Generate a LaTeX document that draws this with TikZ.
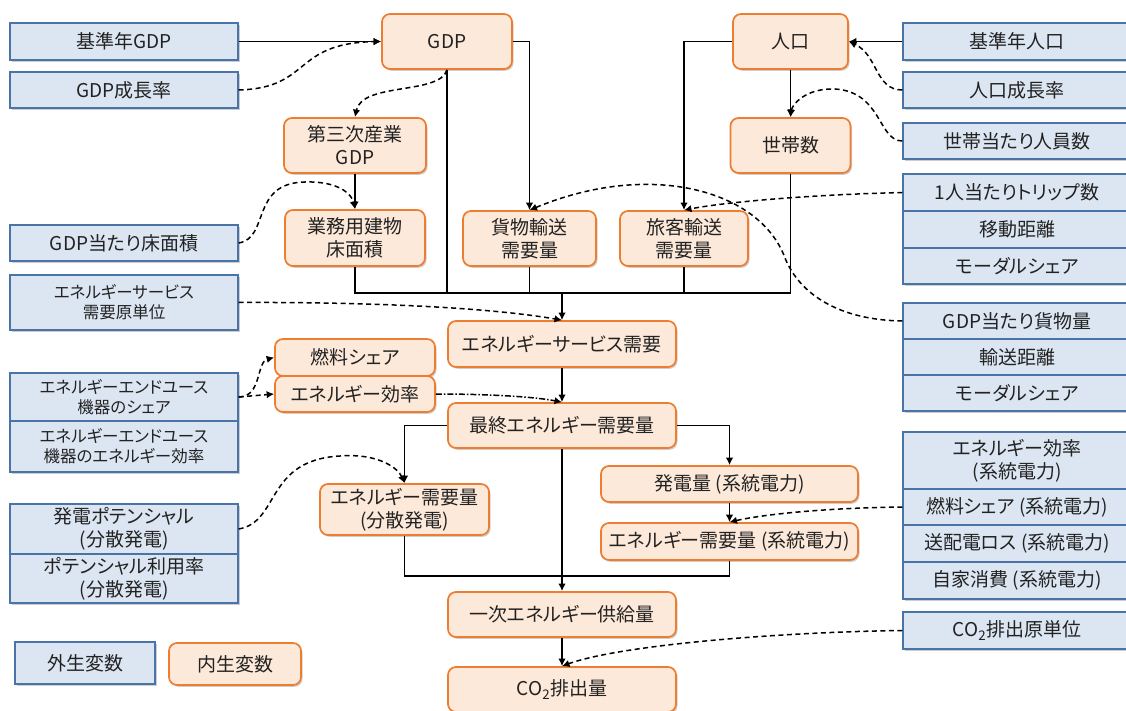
\documentclass[tikz,border=0pt]{standalone}
\usepackage{fontspec}
\setmainfont{Noto Sans CJK JP}[RawFeature=+palt]
\usetikzlibrary{arrows.meta,shadows}
\definecolor{exoF}{HTML}{DCE6F2}
\definecolor{exoB}{HTML}{4A74A8}
\definecolor{endoF}{HTML}{FDE9D9}
\definecolor{endoB}{HTML}{ED7D31}
\definecolor{txt}{HTML}{222222}
\newcommand\fbig{\fontsize{19}{23}\selectfont}
\newcommand\fsmall{\fontsize{16.5}{20}\selectfont}
\tikzset{
  boxshadow/.style={drop shadow={shadow xshift=1.5pt,shadow yshift=-1.8pt,opacity=0.28,fill=black!70}},
  exo/.style={draw=exoB,fill=exoF,line width=1.3pt,minimum width=228pt,inner sep=0pt,align=center,text=txt,font=\fbig,boxshadow},
  endo/.style={draw=endoB,fill=endoF,line width=1.7pt,rounded corners=8pt,inner sep=0pt,align=center,text=txt,font=\fbig,boxshadow},
  conn/.style={line width=1.7pt,black},
  arr/.style={conn,-{Latex[length=7.5pt,width=7.5pt]}},
  darr/.style={line width=1.5pt,black,dash pattern=on 5pt off 3.5pt,-{Latex[length=7.5pt,width=7.5pt]}},
  ddarr/.style={line width=1.5pt,black,dash pattern=on 6pt off 2pt on 1.5pt off 2pt,-{Latex[length=7.5pt,width=7.5pt]}}
}
\begin{document}
\begin{tikzpicture}[x=1pt,y=-1pt]
\clip (0,0) rectangle (1126,711);
\fill[white] (0,0) rectangle (1126,711);
% left exogenous
\node[exo,minimum height=37pt] (bgdp) at (124,41.5) {基準年GDP};
\node[exo,minimum height=36pt] (gdpr) at (124,90) {GDP成長率};
\node[exo,minimum height=36pt] (gfa) at (124,243) {GDP当たり床面積};
\node[exo,minimum height=55pt,font=\fsmall] (esd) at (124,302.5) {エネルギーサービス\\需要原単位};
\node[exo,minimum height=48pt,font=\fsmall] (eus) at (124,397) {エネルギーエンドユース\\機器のシェア};
\node[exo,minimum height=51pt,font=\fsmall] (eue) at (124,446.5) {エネルギーエンドユース\\機器のエネルギー効率};
\node[exo,minimum height=50pt] (pot) at (124,529) {発電ポテンシャル\\(分散発電)};
\node[exo,minimum height=49pt] (potu) at (124,578.5) {ポテンシャル利用率\\(分散発電)};
\node[exo,minimum width=140pt,minimum height=42pt] (lexo) at (85,663) {外生変数};
\node[endo,minimum width=132pt,minimum height=42pt] (lendo) at (235,664) {内生変数};
% right exogenous
\node[exo,minimum height=37pt] (bpop) at (1017,41.5) {基準年人口};
\node[exo,minimum height=36pt] (popr) at (1017,90) {人口成長率};
\node[exo,minimum height=36pt] (hh) at (1017,141) {世帯当たり人員数};
\node[exo,minimum height=37pt] (trip) at (1017,192.5) {1人当たりトリップ数};
\node[exo,minimum height=37pt] (dist) at (1017,229.5) {移動距離};
\node[exo,minimum height=36pt] (modal1) at (1017,266) {モーダルシェア};
\node[exo,minimum height=36pt] (fpg) at (1017,321) {GDP当たり貨物量};
\node[exo,minimum height=36pt] (tdist) at (1017,357) {輸送距離};
\node[exo,minimum height=36pt] (modal2) at (1017,393) {モーダルシェア};
\node[exo,minimum height=57pt] (eeff) at (1017,460.5) {エネルギー効率\\(系統電力)};
\node[exo,minimum height=36pt] (fshare) at (1017,507) {燃料シェア (系統電力)};
\node[exo,minimum height=37pt] (loss) at (1017,543.5) {送配電ロス (系統電力)};
\node[exo,minimum height=37pt] (own) at (1017,580.5) {自家消費 (系統電力)};
\node[exo,minimum height=37pt] (co2i) at (1017,630.5) {CO\textsubscript{2}排出原単位};
% endogenous
\node[endo,minimum width=130pt,minimum height=55pt] (gdp) at (447,41.5) {GDP};
\node[endo,minimum width=142pt,minimum height=55pt] (tgdp) at (355,145.5) {第三次産業\\GDP};
\node[endo,minimum width=140pt,minimum height=56pt] (bfa) at (355,238) {業務用建物\\床面積};
\node[endo,minimum width=133pt,minimum height=55pt] (frt) at (529.5,238.5) {貨物輸送\\需要量};
\node[endo,minimum width=128pt,minimum height=55pt] (psg) at (684,238.5) {旅客輸送\\需要量};
\node[endo,minimum width=115pt,minimum height=55pt] (pop) at (790.5,41.5) {人口};
\node[endo,minimum width=120pt,minimum height=55pt] (hhn) at (790.5,145.5) {世帯数};
\node[endo,minimum width=228pt,minimum height=46pt] (esdem) at (562,344) {エネルギーサービス需要};
\node[endo,minimum width=160pt,minimum height=37pt] (fuel) at (355,357.5) {燃料シェア};
\node[endo,minimum width=160pt,minimum height=36pt] (eff) at (355,394) {エネルギー効率};
\node[endo,minimum width=228pt,minimum height=45pt] (fin) at (562,425.5) {最終エネルギー需要量};
\node[endo,minimum width=169pt,minimum height=51pt] (dg) at (404.5,509.5) {エネルギー需要量\\(分散発電)};
\node[endo,minimum width=257pt,minimum height=36pt] (gen) at (729.5,484) {発電量 (系統電力)};
\node[endo,minimum width=257pt,minimum height=37pt] (grid) at (729.5,541.5) {エネルギー需要量 (系統電力)};
\node[endo,minimum width=228pt,minimum height=45pt] (pes) at (562,614.5) {一次エネルギー供給量};
\node[endo,minimum width=228pt,minimum height=45pt] (co2) at (562,689.5) {CO\textsubscript{2}排出量};
\coordinate (bus) at (562,293);
\coordinate (bus2) at (562,576);
% connectors top
\draw[arr] (bgdp.east) -- (gdp.west);
\draw[darr] (gdpr.east) .. controls (312,88) and (292,43) .. (gdp.west);
\draw[darr] (gdp.south) .. controls (440,95) and (362,82) .. (tgdp.north);
\draw[conn] (gdp.south) -- (gdp.south |- bus);
\draw[arr] (gdp.east) -| (frt.north);
\draw[arr] (tgdp.south) -- (bfa.north);
\draw[darr] (gfa.east) .. controls (270,238) and (250,183) .. (305,182) .. controls (340,181) and (352,195) .. (bfa.north);
\draw[arr] (pop.west) -| (psg.north);
\draw[arr] (bpop.west) -- (pop.east);
\draw[darr] (popr.west) .. controls (875,90) and (878,55) .. (pop.east);
\draw[arr] (pop.south) -- (hhn.north);
\draw[darr] (hh.west) .. controls (878,141) and (882,92) .. (835,89) .. controls (805,88) and (792,105) .. (hhn.north);
\draw[darr] (trip.west) .. controls (800,195) and (720,203) .. (psg.north);
\draw[darr] (fpg.west) .. controls (840,320) and (800,295) .. (785,258) .. controls (760,190) and (650,160) .. (frt.north);
% bus
\draw[conn] (bfa.south) -- (bfa.south |- bus) -- (hhn.south |- bus) -- (hhn.south);
\draw[conn] (frt.south) -- (frt.south |- bus);
\draw[conn] (psg.south) -- (psg.south |- bus);
\draw[arr] (bus) -- (esdem.north);
\draw[darr] (esd.east) .. controls (350,302) and (480,306) .. (esdem.north);
% middle
\draw[arr] (esdem.south) -- (fin.north);
\draw[ddarr] (eff.east) .. controls (480,394) and (530,396) .. (fin.north);
\draw[darr] (eus.east) .. controls (262,397) and (256,362) .. (fuel.west);
\draw[darr] (eus.east) -- (eff.west);
\draw[arr] (fin.west) -| (dg.north);
\draw[arr] (fin.east) -| (gen.north);
\draw[arr] (fin.south) -- (pes.north);
\draw[darr] (pot.east) .. controls (280,522) and (265,460) .. (340,456) .. controls (378,453) and (398,468) .. (dg.north);
\draw[conn] (dg.south) |- (bus2) -| (grid.south);
\draw[arr] (gen.south) -- (grid.north);
\draw[darr] (fshare.west) .. controls (820,508) and (760,515) .. (grid.north);
\draw[arr] (pes.south) -- (co2.north);
\draw[darr] (co2i.west) .. controls (780,632) and (620,645) .. (co2.north);
\end{tikzpicture}
\end{document}
